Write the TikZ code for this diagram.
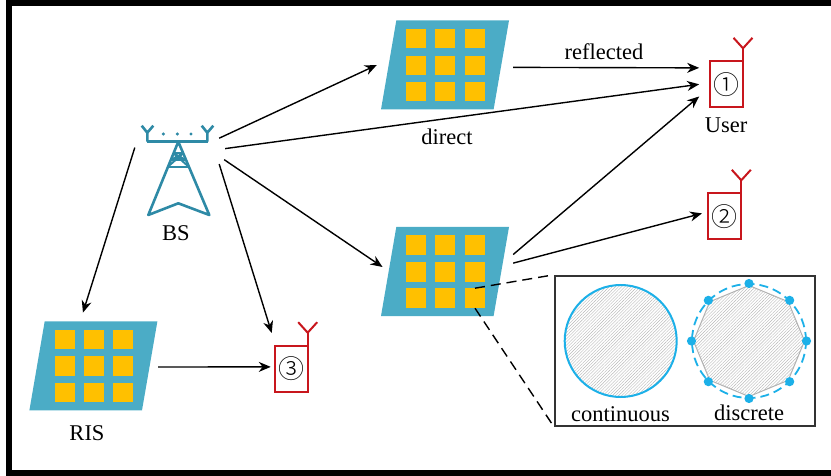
\documentclass[tikz,border=0pt]{standalone}
\usepackage{fontspec}
\setmainfont{Liberation Serif}
\newfontfamily\cjkdigit[UprightFont={* Light}]{Noto Sans CJK SC}
\usetikzlibrary{arrows.meta,patterns.meta,shapes.geometric}
\definecolor{panelblue}{HTML}{4BACC6}
\definecolor{cellgold}{HTML}{FFC000}
\definecolor{towerteal}{HTML}{2E8AA6}
\definecolor{userred}{HTML}{C8161D}
\definecolor{phasecyan}{HTML}{1CB0E8}
\tikzset{
  link/.style={-{Stealth[length=12pt,width=10pt]},line width=1.4pt},
  zoomline/.style={line width=1.4pt,dash pattern=on 10pt off 6pt},
  labeltext/.style={font=\fontsize{22.5}{26}\selectfont,inner sep=0pt},
  userbox/.style={rectangle,draw=userred,line width=2pt,minimum width=32.7pt,minimum height=46pt,inner sep=0pt,font=\cjkdigit\fontsize{26}{26}\selectfont},
  cellbox/.style={rectangle,fill=cellgold,minimum width=20pt,minimum height=19.6pt,inner sep=0pt},
  hatched/.style={pattern={Lines[angle=45,distance=2.2pt,line width=0.4pt]},pattern color=black!28},
  pics/panel/.style={code={
    \fill[panelblue] (-48.7,-44.5) -- (64,-44.5) -- (48.6,44.5) -- (-64,44.5) -- cycle;
    \node[rectangle,inner sep=0pt,minimum width=136pt,minimum height=90pt] (-body) at (0,0) {};
    \foreach \i/\cx in {1/-28.7,2/0.3,3/30}
      \foreach \j/\cy in {1/-26.3,2/0.4,3/26.7}
        \node[cellbox] (-cell\i\j) at (\cx,\cy) {};
  }},
  pics/antenna/.style={code={
    \draw[userred,line width=2pt] (0,0) -- (0,-13);
    \draw[userred,line width=2pt] (-9.5,-23.5) -- (0,-13) -- (9.5,-23.5);
  }}
}
\begin{document}
\begin{tikzpicture}[x=1pt,y=-1pt]
  \useasboundingbox (0,0) rectangle (831,476);
  \draw[line width=6pt] (831,3) -- (9,3) -- (9,473) -- (831,473);

  \pic (top) at (445,65) {panel};
  \pic (mid) at (445,271.5) {panel};
  \pic (ris) at (93.4,365.8) {panel};

  \node[rectangle,inner sep=0pt,minimum width=84pt,minimum height=90pt] (bs) at (177,170) {};
  \draw[towerteal,line width=2.6pt] (146.7,141.7) -- (208.3,141.7);
  \draw[towerteal,line width=2.6pt] (147.3,141.7) -- (147.3,132.7) (141.7,125.7) -- (147.3,132.7) -- (153.3,125.7);
  \draw[towerteal,line width=2.6pt] (207.3,141.7) -- (207.3,132.7) (201.7,125.7) -- (207.3,132.7) -- (213.3,125.7);
  \fill[towerteal] (163.3,134) circle (1.7) (177.3,134) circle (1.7) (191,134) circle (1.7);
  \draw[towerteal,line width=2.6pt,line join=round] (148.3,215) -- (178.3,141.7) -- (209.3,215) -- (178.3,203.3) -- cycle;
  \draw[towerteal,line width=2pt] (173.5,153.3) -- (183.1,153.3) (170.7,160) -- (185.9,160) (167.9,166.7) -- (188.7,166.7);
  \draw[towerteal,line width=2pt] (173.5,153.3) -- (188.7,166.7) (183.1,153.3) -- (167.9,166.7) (170.7,160) -- (183.1,153.3) (185.9,160) -- (173.5,153.3);
  \node[labeltext] (bs-label) at (176,233) {BS};

  \node[userbox,outer sep=11pt] (user1) at (726.5,84.3) {①};
  \node[userbox,outer sep=6.4pt] (user2) at (724.7,216.2) {②};
  \node[userbox,outer sep=4.3pt] (user3) at (291.4,368.7) {③};
  \pic at (743,61.3) {antenna};
  \pic at (741.3,193.3) {antenna};
  \pic at (307.7,345.7) {antenna};

  \node[labeltext] (user-label) at (726,125) {User};
  \node[labeltext] (ris-label) at (87,433) {RIS};
  \node[labeltext] (reflected-label) at (604,52) {reflected};
  \node[labeltext] (direct-label) at (447,137) {direct};

  \draw[link] (bs.37.3) -- (top-body.west);
  \draw[link,shorten <=6pt] (bs.26.8) -- (user1.180);
  \draw[link,shorten <=6pt,shorten >=-6.9pt] (bs.18.9) -- (mid-body.173.2);
  \draw[link,shorten >=8.8pt] (bs.8.1) -- (user3.122);
  \draw[link,shorten >=8.4pt] (bs.152.7) -- (ris-body.106.9);
  \draw[link] (top-body.-2.34) -- (user1.149);
  \draw[link] (mid-body.14.4) -- (user1.204.3);
  \draw[link] (mid-body.7.4) -- (user2.173);
  \draw[link,shorten <=-3.4pt] (ris-body.-1) -- (user3.175.3);

  \node[rectangle,draw=black!80,line width=1.8pt,fill=white,minimum width=260.3pt,minimum height=150pt] (inset) at (684.85,350.7) {};
  \draw[zoomline] (mid-cell33.north) -- (inset.north west);
  \draw[zoomline] (mid-cell33.south) -- (inset.south west);

  \node[circle,draw=phasecyan,line width=2pt,hatched,minimum size=112pt,inner sep=0pt] (continuous) at (620.7,341) {};
  \node[regular polygon,regular polygon sides=8,shape border rotate=22.5,draw=black!30,line width=1pt,hatched,minimum size=111pt,inner sep=0pt] (discrete) at (749,341) {};
  \node[circle,draw=phasecyan,line width=1.8pt,dash pattern=on 9pt off 5pt,minimum size=114pt,inner sep=0pt] (discrete-ring) at (749,341) {};
  \foreach \a in {0,45,...,315}
    \fill[phasecyan] ([shift={(\a:57.5)}]discrete-ring.center) circle (4.6);
  \node[labeltext] (continuous-label) at (620.5,414) {continuous};
  \node[labeltext] (discrete-label) at (749,413) {discrete};
\end{tikzpicture}
\end{document}
